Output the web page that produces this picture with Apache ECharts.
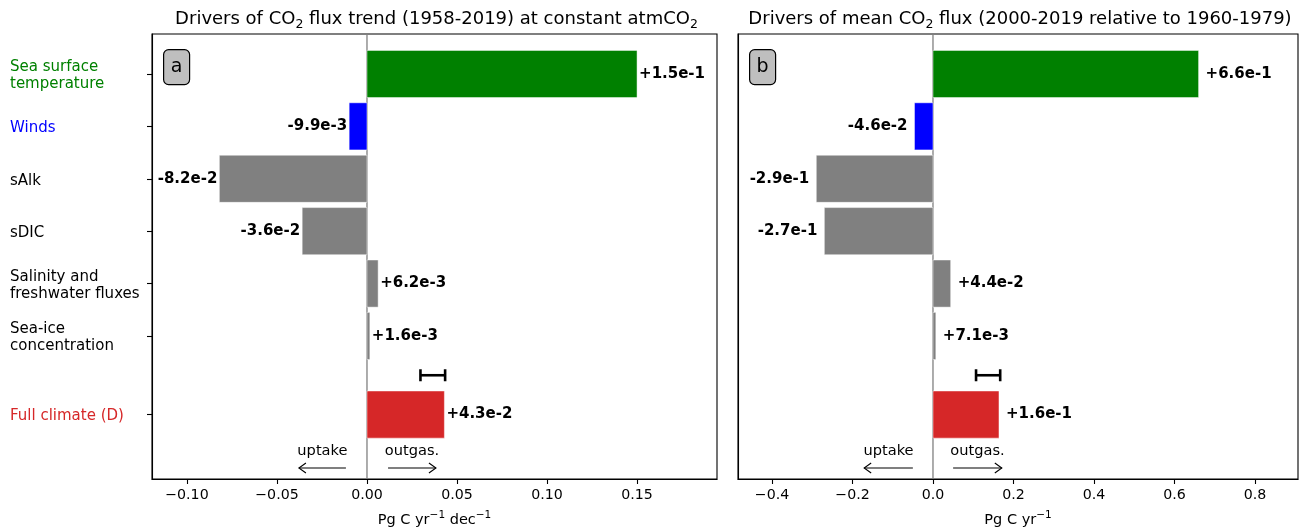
<!DOCTYPE html>
<html><head><meta charset="utf-8">
<script src="https://cdn.jsdelivr.net/npm/echarts@6/dist/echarts.min.js"></script>
<style>html,body{margin:0;padding:0;background:#fff}#c{width:1311px;height:529px}</style>
</head><body><div id="c"></div>
<script>
const categories = ['Sea surface\ntemperature','Winds','sAlk','sDIC','Salinity and\nfreshwater fluxes','Sea-ice\nconcentration','Full climate (D)'];
const slots = [0, 1, 2, 3, 4, 5, 6.5];
const labelColors = ['#008000','#0000ff','#000000','#000000','#000000','#000000','#d62728'];
const barColors = ['#008000','#0000ff','#808080','#808080','#808080','#808080','#d62728'];
const trendValues = [0.15, -0.0099, -0.082, -0.036, 0.0062, 0.0016, 0.043];
const meanValues = [0.66, -0.046, -0.29, -0.27, 0.044, 0.0071, 0.164];
const trendRange = [0.0297, 0.0434];
const meanRange = [0.107, 0.167];
const errorSlot = 5.75;
const arrowSlot = 7.52;
const trendTicks = [-0.10, -0.05, 0, 0.05, 0.10, 0.15];
const meanTicks = [-0.4, -0.2, 0, 0.2, 0.4, 0.6, 0.8];
const trendArrows = [[-0.0117, -0.0378], [0.0117, 0.0383]];
const meanArrows = [[-0.05, -0.171], [0.05, 0.171]];
const arrowTexts = ['uptake', 'outgas.'];
const titles = [
  '{n|Drivers of CO}{s|2}{n| flux trend (1958-2019) at constant atmCO}{s|2}',
  '{n|Drivers of mean CO}{s|2}{n| flux (2000-2019 relative to 1960-1979)}'
];
const xNames = ['{n|Pg C yr}{p|\u22121}{n| dec}{p|\u22121}', '{n|Pg C yr}{p|\u22121}'];
const panelLetters = ['a', 'b'];

const FONT = '"DejaVu Sans", sans-serif';
const chart = echarts.init(document.getElementById('c'), null, {renderer: 'canvas'});

const grids = [
  {left: 152, top: 34, width: 565, height: 445},
  {left: 738, top: 34, width: 560, height: 445}
];
const xRanges = [[-0.1194, 0.1944], [-0.4845, 0.907]];

function fmtTick(v, d) {
  const s = Math.abs(v).toFixed(d);
  return (v < 0 ? '\u2212' : '') + s;
}
function fmtVal(v) {
  return (v > 0 ? '+' : '') + v.toExponential(1);
}

function barSeries(values, gi, offsetPx) {
  return {
    type: 'custom', xAxisIndex: gi, yAxisIndex: gi, z: 3,
    data: values.map((v, i) => [v, slots[i], i]),
    encode: {x: 0, y: 1},
    renderItem: function (params, api) {
      const v = api.value(0), s = api.value(1), i = api.value(2);
      const p0 = api.coord([0, s]);
      const p1 = api.coord([v, s]);
      const h = api.size([0, 0.9])[1];
      const x = Math.min(p0[0], p1[0]);
      const w = Math.abs(p1[0] - p0[0]);
      return {
        type: 'group',
        children: [
          {type: 'rect', shape: {x: x, y: p0[1] - h / 2, width: w, height: h},
           style: {fill: barColors[i], stroke: 'rgba(255,255,255,0.6)', lineWidth: 0.8}},
          {type: 'text', style: {
            text: fmtVal(v), x: p1[0] + (v >= 0 ? offsetPx : -offsetPx), y: p0[1],
            align: v >= 0 ? 'left' : 'right', verticalAlign: 'middle',
            font: 'bold 15px ' + FONT, fill: '#000'}}
        ]
      };
    }
  };
}

function zeroSeries(gi) {
  return {
    type: 'custom', xAxisIndex: gi, yAxisIndex: gi, z: 2,
    data: [[0, 0]],
    renderItem: function (params, api) {
      const a = api.coord([0, -0.763]);
      const b = api.coord([0, 7.73]);
      return {type: 'line', shape: {x1: a[0], y1: a[1], x2: b[0], y2: b[1]},
              style: {stroke: '#808080', lineWidth: 1.3}};
    }
  };
}

function errSeries(range, gi) {
  return {
    type: 'custom', xAxisIndex: gi, yAxisIndex: gi, z: 4,
    data: [[range[0], range[1], errorSlot]],
    renderItem: function (params, api) {
      const a = api.coord([api.value(0), api.value(2)]);
      const b = api.coord([api.value(1), api.value(2)]);
      const st = {stroke: '#000', lineWidth: 2.6};
      return {type: 'group', children: [
        {type: 'line', shape: {x1: a[0], y1: a[1], x2: b[0], y2: b[1]}, style: st},
        {type: 'line', shape: {x1: a[0], y1: a[1] - 6, x2: a[0], y2: a[1] + 6}, style: st},
        {type: 'line', shape: {x1: b[0], y1: b[1] - 6, x2: b[0], y2: b[1] + 6}, style: st}
      ]};
    }
  };
}

function arrowSeries(arrows, gi) {
  return {
    type: 'custom', xAxisIndex: gi, yAxisIndex: gi, z: 4,
    data: arrows.map((a, i) => [a[0], a[1], arrowSlot, i]),
    renderItem: function (params, api) {
      const s = api.value(2), i = api.value(3);
      const a = api.coord([api.value(0), s]);
      const b = api.coord([api.value(1), s]);
      const dir = b[0] > a[0] ? 1 : -1;
      const st = {stroke: '#000', lineWidth: 1.1, fill: null};
      return {type: 'group', children: [
        {type: 'line', shape: {x1: a[0], y1: a[1], x2: b[0], y2: b[1]}, style: st},
        {type: 'polyline', shape: {points: [[b[0] - dir * 7, b[1] - 5], [b[0], b[1]], [b[0] - dir * 7, b[1] + 5]]}, style: st},
        {type: 'text', style: {text: arrowTexts[i], x: (a[0] + b[0]) / 2, y: a[1] - 17,
          align: 'center', verticalAlign: 'middle', font: '14.6px ' + FONT, fill: '#000'}}
      ]};
    }
  };
}

const rich = {};
labelColors.forEach((c, i) => { rich['c' + i] = {color: c, fontSize: 15, lineHeight: 17, fontFamily: FONT}; });

const option = {
  backgroundColor: '#fff',
  animation: false,
  title: titles.map((t, gi) => ({
    text: t, left: grids[gi].left + grids[gi].width / 2 - 3, top: 2, textAlign: 'center',
    textStyle: {fontFamily: FONT, fontSize: 18, fontWeight: 'normal', color: '#000',
      rich: {
        n: {fontFamily: FONT, fontSize: 18, color: '#000', lineHeight: 24, verticalAlign: 'middle'},
        s: {fontFamily: FONT, fontSize: 12.5, color: '#000', lineHeight: 24, verticalAlign: 'bottom'}
      }}
  })),
  grid: grids.map(g => Object.assign({show: true, borderColor: '#000', borderWidth: 1.1, backgroundColor: 'transparent',
    containLabel: false, outerBoundsMode: 'none'}, g)),
  xAxis: [0, 1].map(gi => ({
    type: 'value', gridIndex: gi, min: xRanges[gi][0], max: xRanges[gi][1],
    name: xNames[gi], nameLocation: 'middle', nameGap: 31,
    nameTextStyle: {fontFamily: FONT, fontSize: 14.5, color: '#000',
      rich: {
        n: {fontFamily: FONT, fontSize: 14.5, color: '#000', lineHeight: 20, verticalAlign: 'middle'},
        p: {fontFamily: FONT, fontSize: 10.5, color: '#000', lineHeight: 20, verticalAlign: 'top'}
      }},
    splitLine: {show: false},
    axisLine: {show: true, onZero: false, lineStyle: {color: '#000', width: 1.1}},
    axisTick: {show: true, length: 5, lineStyle: {color: '#000', width: 1.1},
               customValues: gi === 0 ? trendTicks : meanTicks},
    axisLabel: {show: true, margin: 9, fontFamily: FONT, fontSize: 14.2, color: '#000',
                customValues: gi === 0 ? trendTicks : meanTicks,
                formatter: v => fmtTick(v, gi === 0 ? 2 : 1)}
  })),
  yAxis: [0, 1].map(gi => ({
    type: 'value', gridIndex: gi, inverse: true, min: -0.763, max: 7.73,
    splitLine: {show: false},
    axisLine: {show: true, onZero: false, lineStyle: {color: '#000', width: 1.1}},
    axisTick: {show: gi === 0, length: 5, lineStyle: {color: '#000', width: 1.1}, customValues: slots},
    axisLabel: {show: gi === 0, align: 'left', margin: 142, customValues: slots, rich: rich,
      padding: [4, 0, 0, 0],
      formatter: function (val) {
        const i = slots.indexOf(Number(val));
        if (i < 0) return '';
        return categories[i].split('\n').map(l => '{c' + i + '|' + l + '}').join('\n');
      }}
  })),
  graphic: grids.map((g, gi) => ({
    type: 'group', left: g.left + 11, top: 49, z: 10,
    children: [
      {type: 'rect', shape: {x: 0, y: 0, width: 26, height: 35, r: 5},
       style: {fill: '#bfbfbf', stroke: '#000', lineWidth: 1.2}},
      {type: 'text', style: {text: panelLetters[gi], x: 13, y: 17.5, align: 'center', verticalAlign: 'middle',
        font: '19px ' + FONT, fill: '#000'}}
    ]
  })),
  series: [
    zeroSeries(0), barSeries(trendValues, 0, 2), errSeries(trendRange, 0), arrowSeries(trendArrows, 0),
    zeroSeries(1), barSeries(meanValues, 1, 7), errSeries(meanRange, 1), arrowSeries(meanArrows, 1)
  ]
};
chart.setOption(option);
</script>
</body></html>
